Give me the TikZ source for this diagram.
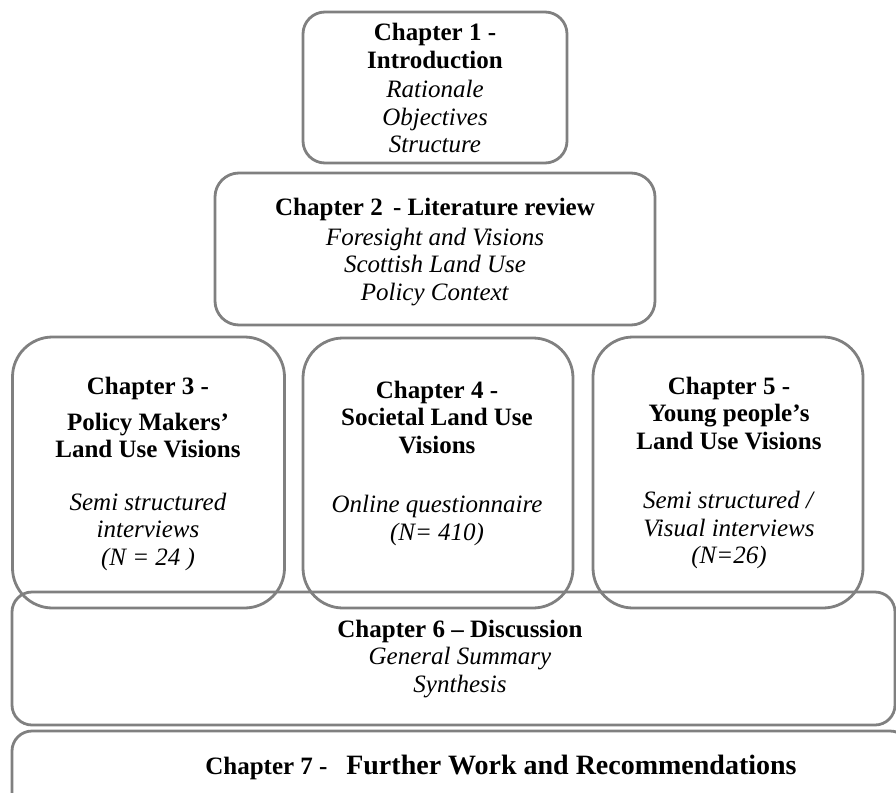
\documentclass[tikz,border=0pt]{standalone}
\usepackage{fontspec}
\setmainfont{Liberation Serif}
\newcommand{\boxfont}{\fontsize{25}{27.5}\selectfont}
\begin{document}
\begin{tikzpicture}[x=1pt,y=-1pt,
    chapbox/.style={draw=black!50,line width=2.8pt,minimum width=#1,inner sep=0pt},
    chaptext/.style={align=center,font=\boxfont,inner sep=0pt}]
    \useasboundingbox (0,0) rectangle (896,792);
    \clip (0,0) rectangle (896,792);
    % boxes
    \node[chapbox=264pt,minimum height=151pt,rounded corners=22pt] (box1) at (435,87.5) {};
    \node[chapbox=440pt,minimum height=152pt,rounded corners=24pt] (box2) at (435,249) {};
    \node[chapbox=272pt,minimum height=271pt,rounded corners=40pt] (box3) at (148.5,472.5) {};
    \node[chapbox=270pt,minimum height=270pt,rounded corners=40pt] (box4) at (438,473) {};
    \node[chapbox=270pt,minimum height=271pt,rounded corners=40pt] (box5) at (728,472.5) {};
    \node[chapbox=883pt,minimum height=133pt,rounded corners=20pt] (box6) at (453.5,658.5) {};
    \node[chapbox=898pt,minimum height=90pt,rounded corners=20pt] (box7) at (461,776) {};
    % texts
    \node[chaptext] (ch1) at (435,88) {\textbf{Chapter 1 -}\\ \textbf{Introduction}\\[2pt]
        \textit{Rationale}\\ \textit{Objectives}\\ \textit{Structure}};
    \node[chaptext] (ch2) at (435,252) {\textbf{Chapter 2\kern4pt\ - Literature review}\\[2pt]
        \textit{Foresight and Visions}\\ \textit{Scottish Land Use}\\ \textit{Policy Context}};
    \node[chaptext] (ch3) at (148,474) {\textbf{Chapter 3 -}\\[8pt] \textbf{Policy Makers’}\\ \textbf{Land Use Visions}\\[25pt]
        \textit{Semi structured}\\ \textit{interviews}\\ \textit{(N = 24 )}};
    \node[chaptext] (ch4) at (437,463) {\textbf{Chapter 4 -}\\ \textbf{Societal Land Use}\\ \textbf{Visions}\\[32pt]
        \textit{Online questionnaire}\\ \textit{(N= 410)}};
    \node[chaptext] (ch5) at (729,473) {\textbf{Chapter 5 -}\\ \textbf{Young people’s}\\ \textbf{Land Use Visions}\\[32pt]
        \textit{Semi structured /}\\ \textit{Visual interviews}\\ \textit{(N=26)}};
    \node[chaptext] (ch6) at (460,659) {\textbf{Chapter 6 – Discussion}\\
        \textit{General Summary}\\ \textit{Synthesis}};
    \node[chaptext,anchor=base] (ch7) at (501,774) {\textbf{Chapter 7 -}\ \ \
        \textbf{\fontsize{28}{30}\selectfont Further Work and Recommendations}};
\end{tikzpicture}
\end{document}
